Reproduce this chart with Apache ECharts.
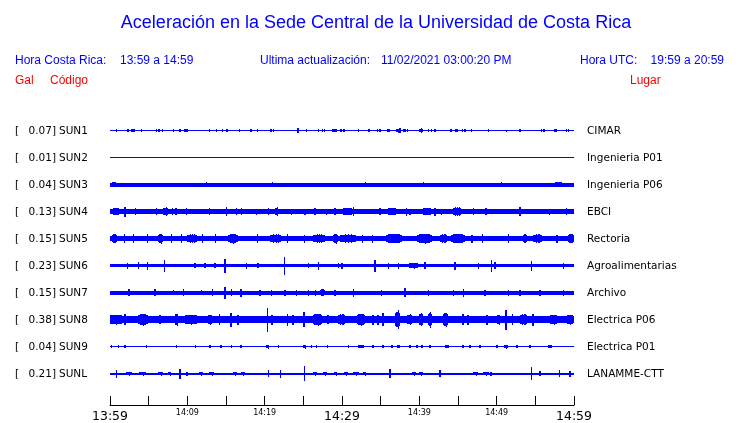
<!DOCTYPE html>
<html>
<head>
<meta charset="utf-8">
<script src="https://cdn.jsdelivr.net/npm/echarts@6/dist/echarts.min.js"></script>
<style>html,body{margin:0;padding:0;background:#fff;}#c{width:740px;height:423px;}</style>
</head>
<body>
<div id="c"></div>
<script>
// ---- data ----
const codes = ['SUN1','SUN2','SUN3','SUN4','SUN5','SUN6','SUN7','SUN8','SUN9','SUNL'];
const places = ['CIMAR','Ingenieria P01','Ingenieria P06','EBCI','Rectoria','Agroalimentarias','Archivo','Electrica P06','Electrica P01','LANAMME-CTT'];
const galMax = [0.07, 0.01, 0.04, 0.13, 0.15, 0.23, 0.15, 0.38, 0.04, 0.21];
// background (continuous) amplitude of each trace, relative units
const baseAmp = [0.6, 0.5, 2.0, 2.3, 2.7, 1.8, 2.0, 3.2, 0.6, 1.0];
// bursts: [minute after 13:59, amplitude, duration (min, optional)]
const burstsSUN1 = [[0.87,1.5],[2.37,1.8,0.3],[2.94,1.8,0.5],[4.1,1.5],[6.04,1.8],[6.34,1.8,0.3],[6.76,1.8],[8.19,1.5],[9.05,1.3],[9.79,1.8,0.5],[12.84,1.3],[13.8,1.2],[14.52,1.2],[15.13,1.5,0.3],[16.72,1.5],[18.23,1.5],[19.05,1.5],[20.82,1.5],[21.12,1.5],[24.27,2.5,0.3],[25.44,1.2],[26.94,1.5],[27.45,1.5],[27.71,1.2],[28.8,1.5],[29.1,1.8,0.4],[29.87,1.2],[30.26,1.2],[32.11,1.5],[33.49,1.5],[34.62,1.3],[34.92,1.5],[35.99,1.5,0.4],[37.2,2,0.5],[37.5,2.2],[38.06,1.8,0.4],[38.5,1.5],[40.2,2.2,0.6],[41.16,1.5],[41.6,1.5],[42.03,1.5],[44.1,1.5],[44.83,1.8,0.4],[45.61,1.5],[45.91,1.8],[46.77,1.5],[48.92,1.2],[51.3,1.0],[53.02,1.5,0.3],[55.82,1.5],[56.12,1.5],[57.55,1.5,0.4],[59.06,1.5],[59.26,1.5]];
const burstsSUN2 = [];
const burstsSUN3 = [[0.5,2.5,0.6],[12.5,2.5],[21.0,2.5],[33.0,2.5],[40.5,2.5],[50.6,2.5],[58.0,2.5,0.8]];
const burstsSUN4 = [[0.78,3.5,1.0],[1.94,5],[3.32,3.5],[6.04,3.5],[7.18,4.5,0.6],[8.1,3.5],[8.53,3.5],[9.92,3.5],[12.84,3.5],[15.09,4.5],[16.38,3.5],[17.03,3.5],[18.97,3],[20.47,3.5],[21.56,4.5,0.4],[23.5,3],[25.22,3],[26.51,3.5,0.5],[28.02,3],[29.1,3.5],[30.17,3.5],[30.78,3.8,1.0],[31.46,4.5],[34.92,3.5,0.5],[36.47,3.3,1.5],[38.37,4],[38.8,3],[40.99,3.3,1.5],[42.03,4],[42.89,3],[44.87,4.5,1.0],[46.98,3.5],[48.62,3.5],[53.02,4.5],[56.81,3],[59.06,3.5]];
const burstsSUN5 = [[0.6,4.5,0.6],[1.9,4.5],[3.0,4.5],[4.8,4.5],[6.5,5,0.6],[8.0,4.5],[9.2,4.5],[10.6,4.2,1.2],[12.0,4.5],[13.6,4.5],[15.9,5,1.2],[19.1,4.5],[21.4,4.2,1.5],[22.9,4.5],[25.2,4],[27.0,4.2,1.5],[29.2,5,0.6],[30.8,4.2,2],[32.6,4],[33.9,4],[36.7,4.5,2],[40.7,5,2],[43.1,4.2,0.9],[45.0,4.5,1.8],[46.8,4],[48.2,4.5],[51.5,4.5],[53.7,4.5,0.5],[55.3,4.2,1.2],[57.8,4],[59.6,4.5,0.8]];
const burstsSUN6 = [[2.29,3],[3.66,3.5],[4.88,4],[7.02,6],[11.0,2.5],[12.28,2.5],[13.58,2.5],[14.87,7],[17.68,3],[19.14,2.5],[22.54,9],[25.64,2.5],[26.94,4],[29.52,2.5],[30.0,3],[34.27,6],[35.99,3],[37.28,3],[39.2,3,1.2],[40.73,3.5],[44.61,4],[47.63,3],[49.36,6],[49.79,3.5],[54.53,5],[58.62,3]];
const burstsSUN7 = [[2.46,3.5],[5.82,3.5],[8.19,2.8],[9.48,3.5],[11.86,2.8],[13.23,3.5],[14.87,6],[15.74,3.5],[16.94,4],[19.4,3],[20.91,3],[22.63,3],[24.14,3],[25.64,3],[26.6,3],[27.48,3.5,0.6],[29.1,3],[31.46,4],[35.14,3],[38.15,4.5],[41.16,3],[44.39,3],[45.69,4],[48.49,3],[51.51,3],[53.02,3],[55.6,3],[58.62,3]];
const burstsSUN8 = [[0.8,5,1.5],[1.94,5.5],[4.3,6,1.3],[6.47,4.5],[8.6,6,0.4],[10.5,5,1.6],[12.9,5,0.5],[14.2,5.5],[15.65,7],[16.55,5],[20.34,12],[20.95,5],[23.0,6],[23.66,5],[25.09,7.5],[26.8,6,1.1],[28.19,4.5],[29.9,5.5,0.9],[32.5,6,1],[34.0,5],[34.66,5],[35.3,6.5],[37.2,9.5,0.6],[38.7,5.5,0.6],[40.2,6.5,0.6],[41.4,8,0.5],[43.4,7,0.6],[45.65,5.5],[46.3,5],[48.75,5],[50.2,5,0.4],[51.2,10],[52.1,5.5],[53.5,5.5,0.9],[54.7,6],[57.4,5,0.9],[59.5,5,0.8]];
const burstsSUN9 = [[0.22,1.8],[1.07,1.8],[1.94,1.8],[4.75,1.8],[8.63,1.8],[11.08,1.8],[12.93,1.8],[14.35,1.8],[15.74,1.8],[16.94,1.8,0.3],[20.39,2,0.4],[21.76,1.8],[25.13,2,0.4],[26.08,1.8],[26.73,1.8],[28.15,1.8],[30.82,1.8],[32.46,1.8,0.8],[34.01,1.8],[35.3,1.8],[36.47,1.8],[37.31,1.8,0.5],[38.79,1.8],[39.7,1.8],[40.35,1.8],[41.38,1.8],[43.58,1.8,0.4],[45.65,1.8],[46.55,1.8],[47.85,1.8],[50.04,1.8],[51.21,2,0.4],[52.63,1.8],[54.31,1.8],[56.9,1.8,0.6]];
const burstsSUNL = [[0.87,4],[2.5,2,0.8],[4.2,2,0.8],[6.5,2,0.6],[7.7,2,0.5],[9.05,5],[9.96,2],[11.8,2,0.5],[13.1,2,0.7],[16.2,2,0.5],[17.2,2,0.5],[20.47,3.5],[22.07,4],[25.13,7.5],[26.5,2,0.5],[27.8,2,0.6],[29.2,2,0.4],[30.5,2,0.6],[31.8,2,0.8],[32.9,2,0.4],[36.21,4.5],[39.3,2,0.5],[40.2,2,0.6],[42.67,3.5],[47.3,2,0.6],[48.6,2,0.7],[49.3,2,0.3],[54.53,6.5],[55.6,2.5],[58.1,3.5],[59.48,3]];
const bursts = [burstsSUN1,burstsSUN2,burstsSUN3,burstsSUN4,burstsSUN5,burstsSUN6,burstsSUN7,burstsSUN8,burstsSUN9,burstsSUNL];
const timeLabels = ['13:59','14:09','14:19','14:29','14:39','14:49','14:59'];
const majorLabels = ['13:59','14:29','14:59'];
const totalMinutes = 60;

// ---- chart ----
const BLUE = '#0000ff';
const chart = echarts.init(document.getElementById('c'), null, {renderer:'canvas'});
const L = 110, R = 740 - 574, TOP0 = 117, ROW = 27;
const grids = [], xAxes = [], yAxes = [], series = [], graphics = [];

function box(x0, x1, yc, h) {
  const y0 = Math.round(yc - h), y1 = Math.max(Math.round(yc + h), y0 + 1);
  return {type:'rect', shape:{x:x0, y:y0, width:Math.max(x1 - x0, 1), height:y1 - y0}, style:{fill:BLUE}};
}
// value dims: 0 time, 1 amplitude, 2 duration, 3 background amplitude, 4 kind (0 band, 1 burst)
function renderItem(params, api) {
  const t = api.value(0), a = api.value(1), d = api.value(2), b = api.value(3), kind = api.value(4);
  const c = api.coord([t, 0]);
  const ha = c[1] - api.coord([t, a])[1];
  const hb = c[1] - api.coord([t, b])[1];
  const x0 = Math.round(api.coord([t - d / 2, 0])[0]);
  const x1 = Math.max(Math.round(api.coord([t + d / 2, 0])[0]), x0 + 1);
  if (kind === 0 || x1 - x0 <= 2) return box(x0, x1, c[1], ha);
  // burst drawn as a dense envelope: body plus full-height strokes
  const w = x1 - x0, xm = Math.round((x0 + x1) / 2);
  const children = [
    box(x0, x1, c[1], hb + (ha - hb) * 0.55),
    box(x0 + Math.round(w * 0.15), x1 - Math.round(w * 0.15), c[1], hb + (ha - hb) * 0.75),
    box(xm, xm + 1, c[1], ha)
  ];
  if (w >= 6) {
    const xa = x0 + Math.round(w * 0.3), xb = x0 + Math.round(w * 0.7);
    children.push(box(xa, xa + 1, c[1], hb + (ha - hb) * 0.9));
    children.push(box(xb, xb + 1, c[1], hb + (ha - hb) * 0.9));
  }
  return {type:'group', children};
}

codes.forEach((code, i) => {
  grids.push({left:L, right:R, top:TOP0 + ROW * i, height:ROW});
  xAxes.push({gridIndex:i, type:'value', min:0, max:totalMinutes, show:false});
  yAxes.push({gridIndex:i, type:'value', min:-ROW / 2, max:ROW / 2, show:false});
  const data = [[totalMinutes / 2, baseAmp[i], totalMinutes, baseAmp[i], 0]].concat(
    bursts[i].map(b => [b[0], b[1], b.length > 2 ? b[2] : 0.15, baseAmp[i], 1]));
  series.push({type:'custom', xAxisIndex:i, yAxisIndex:i, renderItem, data,
    encode:{x:0, y:1}, clip:false, silent:true, animation:false});
  const yc = TOP0 + ROW * i + ROW / 2 + 0.5;
  const font = '10.5px "DejaVu Sans"';
  graphics.push({type:'text', x:15, y:yc, style:{text:'[', font, fill:'#000', verticalAlign:'middle'}});
  graphics.push({type:'text', x:56, y:yc, style:{text:galMax[i].toFixed(2) + ']', font, fill:'#000', align:'right', verticalAlign:'middle'}});
  graphics.push({type:'text', x:59, y:yc, style:{text:code, font, fill:'#000', align:'left', verticalAlign:'middle'}});
  graphics.push({type:'text', x:587, y:yc, style:{text:places[i], font, fill:'#000', align:'left', verticalAlign:'middle'}});
});

// time axis grid
const ai = codes.length;
grids.push({left:L, right:R, top:400, height:9});
xAxes.push({gridIndex:ai, type:'value', min:0, max:totalMinutes, interval:5, position:'bottom',
  axisLine:{show:true, lineStyle:{color:'#000', width:1}},
  axisTick:{show:true, inside:true, length:9, lineStyle:{color:'#000'}},
  splitLine:{show:false},
  axisLabel:{show:true, margin:1, showMinLabel:true, showMaxLabel:true,
    formatter:(v) => {
      if (v % 10 !== 0) return '';
      const s = timeLabels[v / 10];
      return majorLabels.includes(s) ? '{b|' + s + '}' : '{s|' + s + '}';
    },
    rich:{
      b:{fontFamily:'DejaVu Sans', fontSize:12.5, color:'#000', padding:[4,0,0,0]},
      s:{fontFamily:'DejaVu Sans', fontSize:8, color:'#000', padding:[3,0,0,0]}
    }}
});
yAxes.push({gridIndex:ai, type:'value', show:false, min:0, max:1});
series.push({type:'line', xAxisIndex:ai, yAxisIndex:ai, data:[], silent:true});

// header texts
const hf = '12px "Liberation Sans"';
graphics.push({type:'text', x:376, y:23, style:{text:'Aceleración en la Sede Central de la Universidad de Costa Rica', font:'18px "Liberation Sans"', fill:BLUE, align:'center', verticalAlign:'middle'}});
graphics.push({type:'text', x:15, y:61, style:{text:'Hora Costa Rica:', font:hf, fill:BLUE, verticalAlign:'middle'}});
graphics.push({type:'text', x:120, y:61, style:{text:'13:59 a 14:59', font:hf, fill:BLUE, verticalAlign:'middle'}});
graphics.push({type:'text', x:260, y:61, style:{text:'Ultima actualización:', font:hf, fill:BLUE, verticalAlign:'middle'}});
graphics.push({type:'text', x:381, y:61, style:{text:'11/02/2021 03:00:20 PM', font:hf, fill:BLUE, verticalAlign:'middle'}});
graphics.push({type:'text', x:580, y:61, style:{text:'Hora UTC:', font:hf, fill:BLUE, verticalAlign:'middle'}});
graphics.push({type:'text', x:724, y:61, style:{text:'19:59 a 20:59', font:hf, fill:BLUE, align:'right', verticalAlign:'middle'}});
graphics.push({type:'text', x:15, y:81, style:{text:'Gal', font:hf, fill:'#ff0000', verticalAlign:'middle'}});
graphics.push({type:'text', x:50, y:81, style:{text:'Código', font:hf, fill:'#ff0000', verticalAlign:'middle'}});
graphics.push({type:'text', x:630, y:81, style:{text:'Lugar', font:hf, fill:'#ff0000', verticalAlign:'middle'}});

chart.setOption({
  animation:false,
  backgroundColor:'#fff',
  grid:grids, xAxis:xAxes, yAxis:yAxes, series,
  graphic:{elements:graphics}
});
</script>
</body>
</html>
